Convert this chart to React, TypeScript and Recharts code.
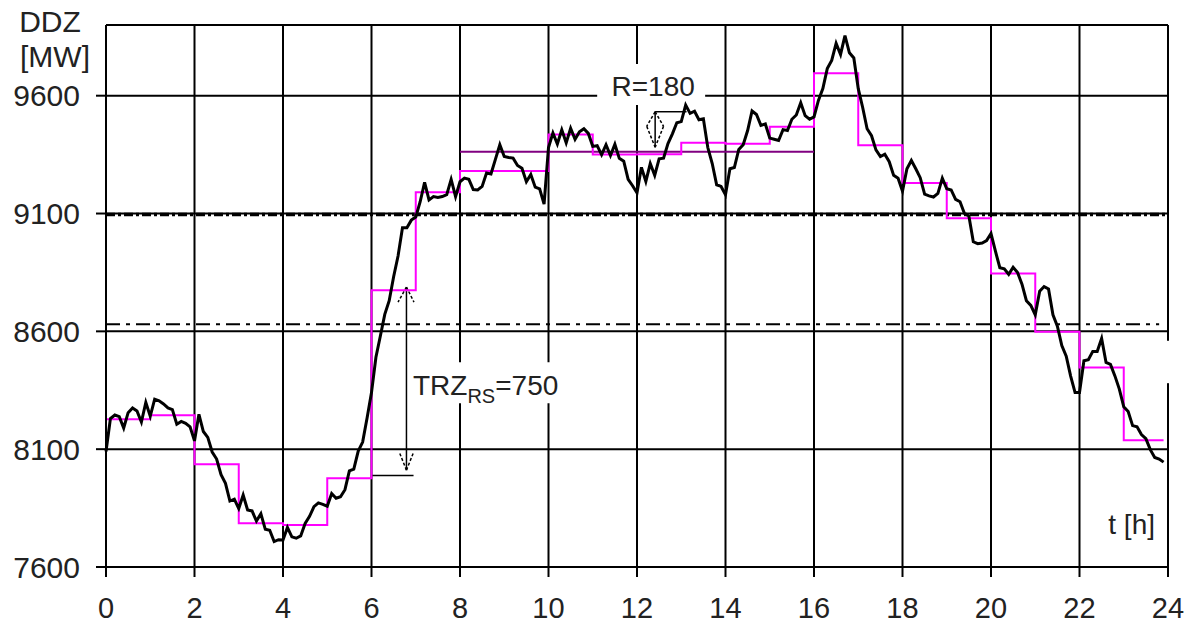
import {
  LineChart,
  Line,
  XAxis,
  YAxis,
  CartesianGrid,
  ReferenceLine,
  ReferenceArea,
  Label,
} from 'recharts'

const font = '"Liberation Sans", Arial, sans-serif'
const ink = '#222'

const hourTicks = [0, 2, 4, 6, 8, 10, 12, 14, 16, 18, 20, 22, 24]
const mwTicks = [7600, 8100, 8600, 9100, 9600]

// DDZ sampled every 6 minutes, 0.0 .. 23.9 h
const load = [
  8090, 8230, 8245, 8238, 8190, 8255, 8275, 8262, 8215, 8298,
  8240, 8312, 8305, 8292, 8275, 8268, 8206, 8218, 8210, 8195,
  8135, 8248, 8175, 8150, 8088, 8058, 7992, 7955, 7880, 7888,
  7848, 7905, 7842, 7838, 7795, 7826, 7760, 7756, 7708, 7716,
  7715, 7768, 7728, 7722, 7732, 7785, 7815, 7856, 7872, 7866,
  7858, 7912, 7892, 7898, 7928, 8008, 8015, 8092, 8130, 8232,
  8340, 8490, 8580, 8672, 8730, 8832, 8920, 9040, 9040, 9072,
  9085, 9150, 9232, 9158, 9172, 9168, 9172, 9180, 9245, 9172,
  9235, 9250, 9245, 9202, 9200, 9215, 9272, 9268, 9330, 9392,
  9342, 9338, 9335, 9304, 9292, 9235, 9266, 9212, 9205, 9140,
  9380, 9442, 9395, 9455, 9400, 9462, 9415, 9447, 9460, 9440,
  9385, 9388, 9350, 9392, 9346, 9394, 9334, 9322, 9245, 9218,
  9188, 9296, 9236, 9312, 9262, 9332, 9335, 9397, 9438, 9485,
  9490, 9560, 9525, 9534, 9498, 9502, 9380, 9312, 9222, 9215,
  9180, 9290, 9295, 9372, 9392, 9452, 9535, 9520, 9474, 9480,
  9420, 9415, 9410, 9456, 9452, 9500, 9518, 9570, 9515, 9500,
  9510, 9580, 9630, 9715, 9750, 9822, 9775, 9855, 9782, 9760,
  9630, 9550, 9460, 9430, 9370, 9342, 9352, 9320, 9262, 9250,
  9195, 9290, 9325, 9290, 9252, 9182, 9175, 9170, 9185, 9250,
  9205, 9200, 9160, 9150, 9100, 9090, 8980, 8972, 8975, 8985,
  9015, 8940, 8870, 8865, 8842, 8872, 8850, 8800, 8730, 8710,
  8670, 8770, 8790, 8780, 8670, 8622, 8540, 8495, 8410, 8340,
  8340, 8475, 8480, 8515, 8515, 8570, 8468, 8460, 8411, 8355,
  8280, 8260, 8200, 8195, 8162, 8145, 8098, 8065, 8058, 8045,
]

// hourly mean values (stepped magenta line)
const hourlyMean = [
  8227, 8244, 8036, 7786, 7778, 7977, 8774, 9190, 9280, 9280, 9435, 9350,
  9352, 9400, 9396, 9468, 9695, 9390, 9230, 9080, 8846, 8598, 8447, 8138,
]

const reserveUpper = 9096
const reserveLower = 8630
const plateauLevel = 9362

const loadData = load.map((v, i) => ({ t: i / 10, load: v }))
const meanData = [
  ...hourlyMean.map((v, i) => ({ t: i, mean: v })),
  { t: 23.9, mean: hourlyMean[hourlyMean.length - 1] },
]

const dotted = { stroke: '#000', strokeWidth: 1.5, strokeDasharray: '3 2' }
const solid = { stroke: '#000', strokeWidth: 1.5 }

export default function App() {
  return (
    <div style={{ position: 'absolute', left: 0, top: 0, background: '#fff' }}>
      <LineChart
        width={1184}
        height={624}
        data={loadData}
        margin={{ top: 25, right: 16, bottom: 0, left: 0 }}
      >
        <CartesianGrid stroke="#000" strokeWidth={2} />
        <XAxis
          dataKey="t"
          type="number"
          domain={[0, 24]}
          ticks={hourTicks}
          height={57}
          tickSize={10}
          tickMargin={20}
          tick={{ fill: ink, fontSize: 29, fontFamily: font }}
          tickLine={{ stroke: '#000', strokeWidth: 2 }}
          axisLine={{ stroke: '#000', strokeWidth: 2 }}
        >
          <Label
            content={(p: any) => (
              <text
                x={p.viewBox.x + p.viewBox.width - 13}
                y={p.viewBox.y - 33}
                textAnchor="end"
                fill={ink}
                fontSize={28}
                fontFamily={font}
              >
                t [h]
              </text>
            )}
          />
        </XAxis>
        <YAxis
          type="number"
          domain={[7600, 9900]}
          ticks={mwTicks}
          width={106}
          tickSize={10}
          tickMargin={16}
          tick={{ fill: ink, fontSize: 30, fontFamily: font }}
          tickLine={{ stroke: '#000', strokeWidth: 2 }}
          axisLine={{ stroke: '#000', strokeWidth: 2 }}
        >
          <Label
            content={(p: any) => (
              <text fill={ink} fontSize={30} fontFamily={font} textAnchor="middle">
                <tspan x={50} y={p.viewBox.y + 7}>DDZ</tspan>
                <tspan x={55} y={p.viewBox.y + 42}>[MW]</tspan>
              </text>
            )}
          />
        </YAxis>

        <ReferenceLine y={9900} stroke="#000" strokeWidth={2} />
        <ReferenceLine
          y={reserveUpper}
          stroke="#000"
          strokeWidth={3.5}
          strokeDasharray="9 3 3 3"
        />
        <ReferenceLine
          segment={[
            { x: 0, y: reserveLower },
            { x: 23.8, y: reserveLower },
          ]}
          stroke="#000"
          strokeWidth={2}
          strokeDasharray="14 6 4 6"
        />

        {/* small gap in the right frame */}
        <ReferenceArea
          x1={23.95}
          x2={24.05}
          y1={8380}
          y2={8560}
          fill="#fff"
          fillOpacity={1}
          stroke="none"
          ifOverflow="visible"
        />

        <ReferenceArea x1={11.1} x2={13.54} y1={9560} y2={9735} fill="#fff" fillOpacity={1} stroke="none">
          <Label
            content={(p: any) => (
              <text
                x={p.viewBox.x + p.viewBox.width / 2 + 2}
                y={p.viewBox.y + p.viewBox.height / 2 + 11}
                textAnchor="middle"
                fill={ink}
                fontSize={28}
                fontFamily={font}
              >
                R=180
              </text>
            )}
          />
        </ReferenceArea>
        <ReferenceArea x1={6.87} x2={10.19} y1={8295} y2={8469} fill="#fff" fillOpacity={1} stroke="none">
          <Label
            content={(p: any) => (
              <text x={p.viewBox.x + 3} y={p.viewBox.y + 33} fill={ink} fontFamily={font} fontSize={28}>
                TRZ
                <tspan fontSize={20} dy={8}>RS</tspan>
                <tspan dy={-8}>=750</tspan>
              </text>
            )}
          />
        </ReferenceArea>

        <ReferenceLine
          segment={[
            { x: 8, y: plateauLevel },
            { x: 16, y: plateauLevel },
          ]}
          stroke="#800080"
          strokeWidth={2}
        />

        {/* R = 180 marker */}
        <ReferenceLine segment={[{ x: 12.41, y: 9532 }, { x: 13.12, y: 9532 }]} {...solid} />
        <ReferenceLine segment={[{ x: 12.41, y: 9532 }, { x: 12.41, y: 9381 }]} {...solid} />
        <ReferenceLine segment={[{ x: 12.41, y: 9532 }, { x: 12.22, y: 9470 }]} {...dotted} />
        <ReferenceLine segment={[{ x: 12.41, y: 9532 }, { x: 12.6, y: 9470 }]} {...dotted} />
        <ReferenceLine segment={[{ x: 12.22, y: 9470 }, { x: 12.41, y: 9381 }]} {...dotted} />
        <ReferenceLine segment={[{ x: 12.6, y: 9470 }, { x: 12.41, y: 9381 }]} {...dotted} />

        {/* TRZ marker */}
        <ReferenceLine segment={[{ x: 6.79, y: 8788 }, { x: 6.79, y: 8011 }]} {...solid} />
        <ReferenceLine segment={[{ x: 6.79, y: 8788 }, { x: 6.6, y: 8724 }]} {...dotted} />
        <ReferenceLine segment={[{ x: 6.79, y: 8788 }, { x: 6.96, y: 8724 }]} {...dotted} />
        <ReferenceLine segment={[{ x: 6.79, y: 8011 }, { x: 6.64, y: 8082 }]} {...dotted} />
        <ReferenceLine segment={[{ x: 6.79, y: 8011 }, { x: 6.94, y: 8082 }]} {...dotted} />
        <ReferenceLine segment={[{ x: 6.0, y: 7988 }, { x: 6.95, y: 7988 }]} {...solid} />

        <Line
          data={meanData}
          dataKey="mean"
          type="stepAfter"
          stroke="#ff00ff"
          strokeWidth={2}
          dot={false}
          isAnimationActive={false}
        />
        <Line
          dataKey="load"
          type="linear"
          stroke="#000"
          strokeWidth={3}
          dot={false}
          isAnimationActive={false}
        />
      </LineChart>
    </div>
  )
}
